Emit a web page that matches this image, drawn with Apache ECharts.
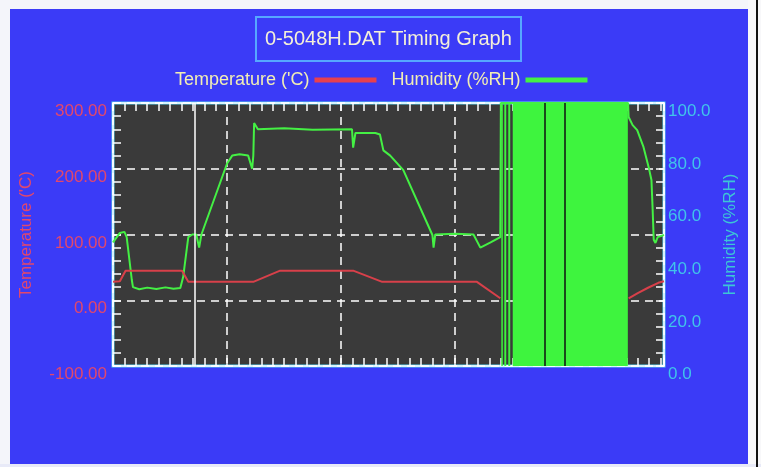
<!DOCTYPE html>
<html lang="en">
<head>
<meta charset="UTF-8">
<title>0-5048H.DAT Timing Graph</title>
<style>
  html, body { margin: 0; padding: 0; background: #fff; }
  #chart { width: 761px; height: 467px; }
</style>
<script src="https://cdn.jsdelivr.net/npm/echarts@6/dist/echarts.min.js"></script>
</head>
<body>
<div id="chart"></div>
<script>
// time runs in plain units, one dashed gridline every 10
const timeMax = 48.3;

// temperature ('C) as [time, value]; '-' breaks the line under the noise block
const tempData = [
  [0, 28], [0.6, 29], [1.1, 45], [6.05, 45], [6.6, 28], [12.3, 28], [14.65, 45],
  [21.05, 45], [23.6, 28], [31.9, 28], [33.95, 3], [34.5, '-'],
  [45.2, 3], [46.0, 11], [46.9, 19], [47.8, 26.5], [48.3, 29]
];

// humidity (%RH) as [time, value]
const humData = [
  [0, 47], [0.6, 50.6], [1.0, 51], [1.2, 49], [1.65, 32.7], [1.75, 30],
  [2.3, 29.2], [3.0, 29.8], [3.8, 29.3], [4.6, 29.9], [5.3, 29.4], [5.9, 29.7],
  [6.15, 33.8], [6.6, 49], [6.95, 50], [7.3, 50], [7.55, 45], [7.75, 50],
  [10.0, 77], [10.45, 80], [11.1, 80.5], [11.85, 80], [12.2, 75], [12.3, 80],
  [12.37, 92.4], [12.7, 90], [15.0, 90.4], [17.5, 89.8], [20.95, 90],
  [21.05, 83], [21.25, 88.6], [23.0, 88.6], [23.4, 88], [23.7, 82], [24.3, 80],
  [25.45, 74.5], [28.0, 49.8], [28.1, 45], [28.25, 50], [30.0, 50.3], [31.6, 50],
  [32.2, 45], [33.1, 47], [33.95, 49], [34.0, 100],
  [45.15, 100], [45.2, 94.7], [45.55, 91.6], [45.95, 89.7], [46.5, 83.3],
  [46.95, 75.7], [47.2, 70.7], [47.3, 60], [47.4, 48], [47.55, 46.8],
  [47.75, 49], [48.3, 49.8]
];

// bursts of saturated humidity readings (time ranges)
const noiseBands = [[34.04, 34.17], [34.3, 34.47], [34.65, 34.82], [35.04, 45.13]];
const blackMarks = [37.81, 39.56];
const cursorAt = 7.19;

const tempTicks = { min: -100, max: 300, interval: 100 };
const humTicks = { min: 0, max: 100, interval: 20 };

const font = "'Liberation Sans', Arial, sans-serif";
const blue = '#3b3bf7';

var chart = echarts.init(document.getElementById('chart'));

var tickStyle = { color: '#ffffff', width: 1.5 };

option = {
  backgroundColor: blue,
  animation: false,
  textStyle: { fontFamily: font },
  graphic: [
    { type: 'rect', shape: { x: 0, y: 0, width: 761, height: 9 }, style: { fill: '#f4f5fa' } },
    { type: 'rect', shape: { x: 0, y: 0, width: 10, height: 467 }, style: { fill: '#f4f5fa' } },
    { type: 'rect', shape: { x: 748, y: 0, width: 13, height: 467 }, style: { fill: '#f8f8fa' } },
    { type: 'rect', shape: { x: 0, y: 464, width: 761, height: 3 }, style: { fill: '#e8eaf8' } },
    { type: 'rect', shape: { x: 756, y: 0, width: 2, height: 467 }, style: { fill: '#111111' } }
  ],
  title: {
    text: '0-5048H.DAT Timing Graph',
    left: 256,
    top: 17,
    padding: [12, 9],
    borderColor: '#56a8ff',
    borderWidth: 2,
    textStyle: { color: '#f4f0d8', fontSize: 20, fontWeight: 'normal', fontFamily: font }
  },
  legend: {
    data: ["Temperature ('C)", 'Humidity (%RH)'],
    left: 170,
    top: 66,
    align: 'right',
    icon: 'rect',
    itemWidth: 62,
    itemHeight: 5,
    itemGap: 15,
    textStyle: { color: '#f2eeb4', fontSize: 18, fontFamily: font }
  },
  grid: {
    show: true,
    left: 113,
    top: 103,
    width: 551,
    height: 263,
    backgroundColor: '#3a3a3a',
    borderColor: '#5ad0f0',
    borderWidth: 3
  },
  xAxis: [
    {
      type: 'value',
      min: 0,
      max: timeMax,
      interval: 10,
      position: 'bottom',
      axisLine: { show: true, onZero: false, lineStyle: tickStyle },
      axisTick: { show: true, inside: true, length: 8, lineStyle: tickStyle },
      minorTick: { show: true, splitNumber: 10, length: 8, lineStyle: tickStyle },
      axisLabel: { show: false },
      splitLine: { show: true, lineStyle: { color: '#ffffff', type: [8, 6], width: 1.5 } }
    },
    {
      type: 'value',
      min: 0,
      max: timeMax,
      interval: 10,
      position: 'top',
      axisLine: { show: true, onZero: false, lineStyle: tickStyle },
      axisTick: { show: true, inside: true, length: 8, lineStyle: tickStyle },
      minorTick: { show: true, splitNumber: 10, length: 8, lineStyle: tickStyle },
      axisLabel: { show: false },
      splitLine: { show: false }
    }
  ],
  yAxis: [
    {
      type: 'value',
      min: tempTicks.min,
      max: tempTicks.max,
      interval: tempTicks.interval,
      position: 'left',
      name: "Temperature ('C)",
      nameLocation: 'middle',
      nameRotate: 90,
      nameGap: 78,
      nameTextStyle: { color: '#e2486c', fontSize: 17, fontFamily: font },
      axisLine: { show: true, onZero: false, lineStyle: tickStyle },
      axisTick: { show: true, inside: true, length: 8, lineStyle: tickStyle },
      minorTick: { show: true, splitNumber: 5, length: 8, lineStyle: tickStyle },
      axisLabel: {
        color: '#e2486c', fontSize: 17, margin: 6, verticalAlign: 'top',
        formatter: function (v) { return v.toFixed(2); }
      },
      splitLine: { show: true, lineStyle: { color: '#ffffff', type: [8, 6], width: 1.5 } }
    },
    {
      type: 'value',
      min: humTicks.min,
      max: humTicks.max,
      interval: humTicks.interval,
      position: 'right',
      name: 'Humidity (%RH)',
      nameLocation: 'middle',
      nameRotate: 90,
      nameGap: 58,
      nameTextStyle: { color: '#3cc6d6', fontSize: 17, fontFamily: font },
      axisLine: { show: true, onZero: false, lineStyle: tickStyle },
      axisTick: { show: true, inside: true, length: 8, lineStyle: tickStyle },
      minorTick: { show: true, splitNumber: 4, length: 8, lineStyle: tickStyle },
      axisLabel: {
        color: '#40c4ea', fontSize: 17, margin: 4, verticalAlign: 'top',
        formatter: function (v) { return v.toFixed(1); }
      },
      splitLine: { show: false }
    }
  ],
  series: [
    {
      name: 'Humidity (%RH)',
      type: 'line',
      xAxisIndex: 0,
      yAxisIndex: 1,
      data: humData,
      showSymbol: false,
      color: '#44f044',
      lineStyle: { color: '#44f044', width: 2 },
      z: 3,
      markArea: {
        silent: true,
        itemStyle: { color: '#3ef43e', opacity: 1 },
        data: noiseBands.map(function (b) { return [{ xAxis: b[0] }, { xAxis: b[1] }]; })
      }
    },
    {
      name: "Temperature ('C)",
      type: 'line',
      xAxisIndex: 0,
      yAxisIndex: 0,
      data: tempData,
      showSymbol: false,
      connectNulls: false,
      color: '#e8404e',
      lineStyle: { color: '#d8404a', width: 2 },
      z: 4,
      markLine: {
        silent: true,
        symbol: 'none',
        label: { show: false },
        data: [{ xAxis: cursorAt, lineStyle: { color: '#ffffff', type: 'solid', width: 1.5 } }]
          .concat(blackMarks.map(function (x) {
            return { xAxis: x, lineStyle: { color: '#101010', type: 'solid', width: 1.5 } };
          }))
      }
    }
  ]
};

chart.setOption(option);
</script>
</body>
</html>
